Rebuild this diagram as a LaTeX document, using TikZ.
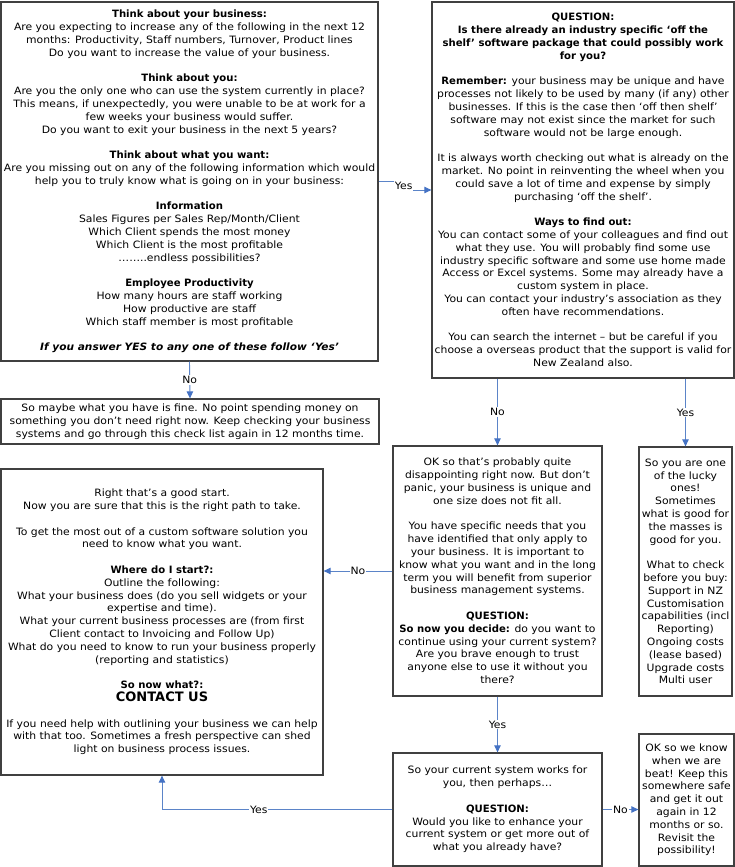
\documentclass[tikz,border=0pt]{standalone}
\usepackage{fontspec}
\setmainfont[FakeStretch=1.07, BoldFeatures={FakeStretch=1.0}, BoldItalicFeatures={FakeStretch=1.05}]{DejaVu Sans}
\usetikzlibrary{arrows.meta}
\definecolor{boxline}{HTML}{404040}
\definecolor{connline}{HTML}{5B84C8}
\definecolor{conntip}{HTML}{4472C4}
\newcommand{\blank}{\\[12.8pt]}
\tikzset{
  flowbox/.style={draw=boxline, line width=1.3pt, fill=white, align=center,
    inner xsep=0.3pt, inner ysep=2pt, font=\fontsize{10.1}{12.8}\selectfont},
  conn/.style={draw=connline, line width=0.9pt,
    -{Triangle[width=6.5pt,length=7pt,fill=conntip,color=conntip]}},
  lbl/.style={fill=white, inner sep=1pt, font=\fontsize{10.1}{12}\selectfont, text=black}
}
\begin{document}
\begin{tikzpicture}[x=1pt,y=-1pt]
\useasboundingbox (0,0) rectangle (735,867);

\node[flowbox, minimum width=377pt, minimum height=359pt] (A) at (189.5,181.5) {%
\textbf{Think about your business:}\\
Are you expecting to increase any of the following in the next 12\\
months: Productivity, Staff numbers, Turnover, Product lines\\
Do you want to increase the value of your business.\blank
\textbf{Think about you:}\\
Are you the only one who can use the system currently in place?\\
This means, if unexpectedly, you were unable to be at work for a\\
few weeks your business would suffer.\\
Do you want to exit your business in the next 5 years?\blank
\textbf{Think about what you want:}\\
Are you missing out on any of the following information which would\\
help you to truly know what is going on in your business:\blank
\textbf{Information}\\
Sales Figures per Sales Rep/Month/Client\\
Which Client spends the most money\\
Which Client is the most profitable\\
……..endless possibilities?\blank
\textbf{Employee Productivity}\\
How many hours are staff working\\
How productive are staff\\
Which staff member is most profitable\blank
\textbf{\textit{If you answer YES to any one of these follow ‘Yes’}}};

\node[flowbox, minimum width=302pt, minimum height=376pt] (B) at (583,190) {%
\textbf{QUESTION:}\\
\textbf{Is there already an industry specific ‘off the}\\
\textbf{shelf’ software package that could possibly work}\\
\textbf{for you?}\blank
\textbf{Remember:} your business may be unique and have\\
processes not likely to be used by many (if any) other\\
businesses. If this is the case then ‘off then shelf’\\
software may not exist since the market for such\\
software would not be large enough.\blank
It is always worth checking out what is already on the\\
market. No point in reinventing the wheel when you\\
could save a lot of time and expense by simply\\
purchasing ‘off the shelf’.\blank
\textbf{Ways to find out:}\\
You can contact some of your colleagues and find out\\
what they use. You will probably find some use\\
industry specific software and some use home made\\
Access or Excel systems. Some may already have a\\
custom system in place.\\
You can contact your industry’s association as they\\
often have recommendations.\blank
You can search the internet – but be careful if you\\
choose a overseas product that the support is valid for\\
New Zealand also.};

\node[flowbox, minimum width=378pt, minimum height=45pt] (C) at (190,421.5) {%
So maybe what you have is fine. No point spending money on\\
something you don’t need right now. Keep checking your business\\
systems and go through this check list again in 12 months time.};

\node[flowbox, minimum width=322pt, minimum height=306pt] (D) at (162,622) {%
Right that’s a good start.\\
Now you are sure that this is the right path to take.\blank
To get the most out of a custom software solution you\\
need to know what you want.\blank
\textbf{Where do I start?:}\\
Outline the following:\\
What your business does (do you sell widgets or your\\
expertise and time).\\
What your current business processes are (from first\\
Client contact to Invoicing and Follow Up)\\
What do you need to know to run your business properly\\
(reporting and statistics)\blank
\textbf{So now what?:}\\
{\fontsize{13}{15}\selectfont\bfseries CONTACT US}\blank
If you need help with outlining your business we can help\\
with that too. Sometimes a fresh perspective can shed\\
light on business process issues.};

\node[flowbox, minimum width=209pt, minimum height=250pt] (E) at (497.5,571) {%
OK so that’s probably quite\\
disappointing right now. But don’t\\
panic, your business is unique and\\
one size does not fit all.\blank
You have specific needs that you\\
have identified that only apply to\\
your business. It is important to\\
know what you want and in the long\\
term you will benefit from superior\\
business management systems.\blank
\textbf{QUESTION:}\\
\textbf{So now you decide:} do you want to\\
continue using your current system?\\
Are you brave enough to trust\\
anyone else to use it without you\\
there?};

\node[flowbox, minimum width=209pt, minimum height=113pt] (F) at (497.5,809.5) {%
So your current system works for\\
you, then perhaps…\blank
\textbf{QUESTION:}\\
Would you like to enhance your\\
current system or get more out of\\
what you already have?};

\node[flowbox, minimum width=93pt, minimum height=249pt] (G) at (685.5,571.5) {%
So you are one\\
of the lucky\\
ones!\\
Sometimes\\
what is good for\\
the masses is\\
good for you.\blank
What to check\\
before you buy:\\
Support in NZ\\
Customisation\\
capabilities (incl\\
Reporting)\\
Ongoing costs\\
(lease based)\\
Upgrade costs\\
Multi user};

\node[flowbox, minimum width=95pt, minimum height=132pt] (H) at (686.5,800) {%
OK so we know\\
when we are\\
beat! Keep this\\
somewhere safe\\
and get it out\\
again in 12\\
months or so.\\
Revisit the\\
possibility!};

% connectors
\draw[conn] (A.east) -- ++(25,0) |- node[lbl, pos=0.25] {Yes} (B.west);
\draw[conn] (A.south) -- node[lbl] {No} (C.north);
\draw[conn] (B.south -| E.north) -- node[lbl] {No} (E.north);
\draw[conn] (B.south -| G.north) -- node[lbl] {Yes} (G.north);
\draw[conn] (E.west) -- node[lbl] {No} (E.west -| D.east);
\draw[conn] (E.south) -- node[lbl] {Yes} (F.north);
\draw[conn] (F.west) -| node[lbl, pos=0.29] {Yes} (D.south);
\draw[conn] (F.east) -- node[lbl] {No} (F.east -| H.west);
\end{tikzpicture}
\end{document}
